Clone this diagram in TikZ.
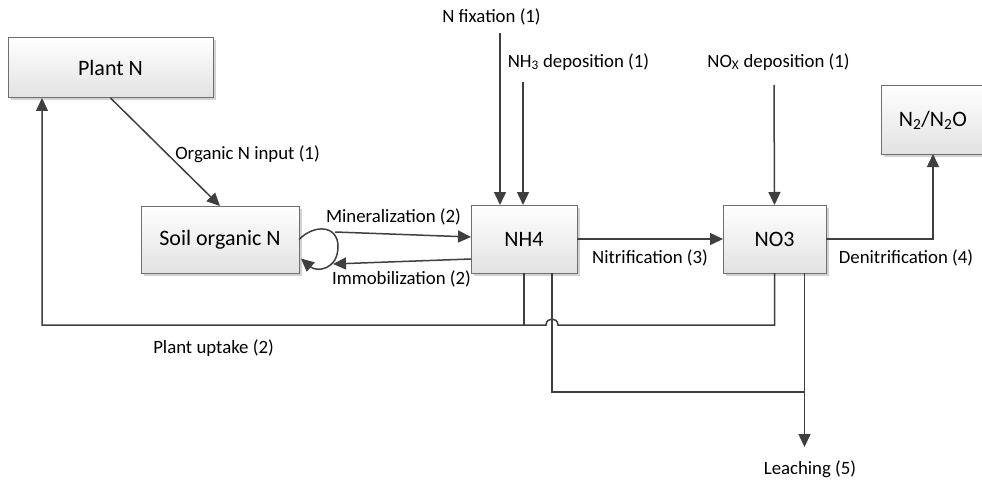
\documentclass[tikz,border=0pt]{standalone}
\usepackage{fontspec}
\setmainfont{Carlito}
\usetikzlibrary{arrows.meta,shadows,calc}
\definecolor{flowgray}{HTML}{3F3F3F}
\definecolor{boxgray}{HTML}{6F6F6F}
\definecolor{fadegray}{HTML}{E2E2E2}
\begin{document}
\begin{tikzpicture}[x=1pt,y=-1pt,
  pool/.style={draw=boxgray,line width=1pt,top color=white,bottom color=fadegray,
    drop shadow={shadow xshift=2.5pt,shadow yshift=-2.5pt,fill=black!25,opacity=.7},
    inner sep=0pt,outer sep=0pt,font=\fontsize{22}{26}\selectfont},
  lbl/.style={inner sep=0pt,font=\fontsize{18.8}{22}\selectfont},
  flow/.style={draw=flowgray,line width=1.5pt,-{Triangle[length=13pt,width=12pt]}},
  link/.style={draw=flowgray,line width=1.5pt}]
\useasboundingbox (0,0) rectangle (982,484);
\clip (0,0) rectangle (982,484);
% pools
\node[pool,minimum width=205pt,minimum height=60pt] (plant) at (110.5,68) {Plant N};
\node[pool,minimum width=158pt,minimum height=67pt] (soil) at (220,239.5) {Soil organic N};
\node[pool,minimum width=106pt,minimum height=68pt] (nh4) at (524,239) {NH4};
\node[pool,minimum width=103pt,minimum height=68pt] (no3) at (774.5,239) {NO3};
\node[pool,minimum width=104pt,minimum height=68pt] (gas) at (933,120) {N\textsubscript{2}/N\textsubscript{2}O};
% labels
\node[lbl] (orglbl) at (247.5,154) {Organic N input (1)};
\node[lbl] (minlbl) at (393.5,217) {Mineralization (2)};
\node[lbl] (immlbl) at (401.5,279) {Immobilization (2)};
\node[lbl] (fixlbl) at (491.5,17) {N fixation (1)};
\node[lbl] (nh3lbl) at (578.5,62) {NH\textsubscript{3} deposition (1)};
\node[lbl] (noxlbl) at (778.5,62) {NO\textsubscript{X} deposition (1)};
\node[lbl] (nitlbl) at (650,258) {Nitrification (3)};
\node[lbl] (denlbl) at (906,258) {Denitrification (4)};
\node[lbl] (uptlbl) at (213.5,348) {Plant uptake (2)};
\node[lbl] (leachlbl) at (810,469) {Leaching (5)};
% free ends
\coordinate (fixtop) at (500,33);
\coordinate (nh3top) at (523,82);
\coordinate (noxtop) at (774,85);
\coordinate (minstart) at (335,232);
\coordinate (immend) at (333,264);
\coordinate (hopR) at (558,325);
\coordinate (hopL) at (546,325);
\coordinate (uptcorner) at (42,325);
\coordinate (leachrow) at (552,392);
\coordinate (leachend) at (804.5,447);
% flows
\draw[flow] (plant.south) -- (soil.north);
\draw[flow] (soil.east) .. controls ($(soil.east)+(16,-16)$) and ($(soil.east)+(39,-14)$) .. ($(soil.east)+(39,7)$)
  .. controls ($(soil.east)+(39,30)$) and ($(soil.east)+(18,33)$) .. ($(soil.east)+(2,19)$);
\draw[flow] (minstart) -- ($(nh4.west)+(0,-2)$);
\draw[flow] ($(nh4.west)+(0,20)$) -- (immend);
\draw[flow] (fixtop) -- (fixtop |- nh4.north);
\draw[flow] (nh3top) -- (nh3top |- nh4.north);
\draw[flow] (noxtop) -- (no3.north);
\draw[flow] (nh4.east) -- (no3.west);
\draw[flow] (no3.east) -| (gas.south);
% uptake and leaching
\draw[flow] (no3.south) |- (hopR) .. controls ($(hopR)+(0,-8)$) and ($(hopL)+(0,-8)$) .. (hopL)
  -- (uptcorner) -- (uptcorner |- plant.south);
\draw[link] (nh4.south) -- (nh4.south |- uptcorner);
\draw[link] ($(nh4.south)+(28,0)$) |- (leachend |- leachrow);
\draw[flow] ($(no3.south)+(30,0)$) -- (leachend);
\end{tikzpicture}
\end{document}
